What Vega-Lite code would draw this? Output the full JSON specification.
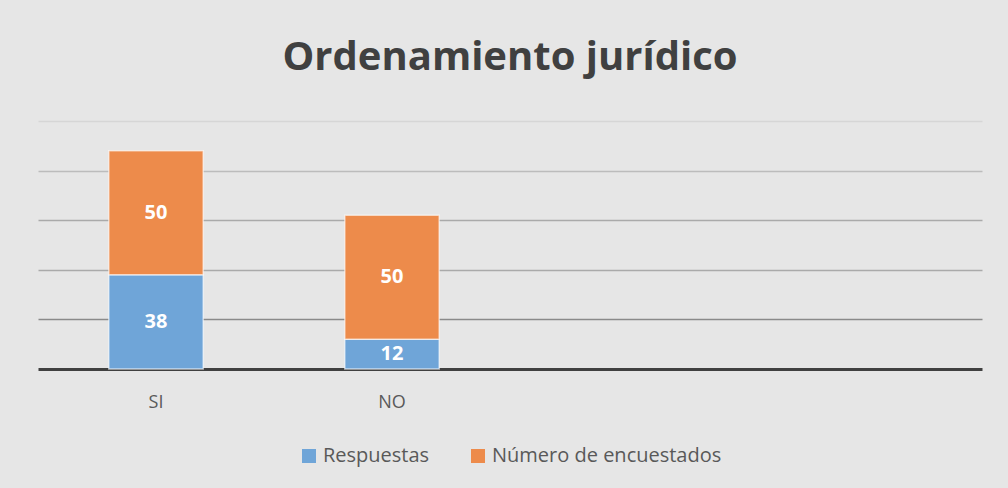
{
  "$schema": "https://vega.github.io/schema/vega-lite/v6.json",
  "autosize": {"type": "none"},
  "width": 944,
  "height": 248,
  "padding": {"left": 38, "top": 121, "right": 26, "bottom": 119},
  "background": "#e6e6e6",
  "title": {
    "text": "Ordenamiento jurídico",
    "anchor": "middle",
    "font": "Open Sans",
    "fontSize": 40,
    "fontWeight": "bold",
    "color": "#404040",
    "offset": 43
  },
  "data": {
    "values": [
      {"cat": "SI", "serie": "Respuestas", "valor": 38, "orden": 1},
      {"cat": "SI", "serie": "Número de encuestados", "valor": 50, "orden": 2},
      {"cat": "NO", "serie": "Respuestas", "valor": 12, "orden": 1},
      {"cat": "NO", "serie": "Número de encuestados", "valor": 50, "orden": 2}
    ]
  },
  "encoding": {
    "x": {
      "field": "cat",
      "type": "nominal",
      "sort": null,
      "scale": {"domain": ["SI", "NO", " ", "  "], "paddingInner": 0.6, "paddingOuter": 0.3},
      "axis": {
        "title": null,
        "labelAngle": 0,
        "ticks": false,
        "labelPadding": 24,
        "labelFont": "Open Sans",
        "labelFontSize": 18,
        "labelColor": "#595959",
        "domainColor": "#404040",
        "domainWidth": 3,
        "grid": false
      }
    },
    "y": {
      "field": "valor",
      "type": "quantitative",
      "stack": "zero",
      "scale": {"domain": [0, 100], "nice": false},
      "axis": {
        "title": null,
        "labels": false,
        "ticks": false,
        "domain": false,
        "values": [20, 40, 60, 80, 100],
        "gridWidth": 1.5,
        "gridColor": {
          "condition": [
            {"test": "datum.value == 20", "value": "#8a8a8a"},
            {"test": "datum.value == 100", "value": "#d6d6d6"},
            {"test": "datum.value == 80", "value": "#bcbcbc"}
          ],
          "value": "#aaaaaa"
        }
      }
    },
    "order": {"field": "orden", "type": "quantitative"}
  },
  "layer": [
    {
      "mark": {"type": "bar", "stroke": "#ffffff", "strokeOpacity": 0.6, "strokeWidth": 1.5},
      "encoding": {
        "color": {
          "field": "serie",
          "type": "nominal",
          "scale": {"domain": ["Respuestas", "Número de encuestados"], "range": ["#6fa5d8", "#ed8b4b"]},
          "legend": {
            "title": null,
            "orient": "bottom",
            "direction": "horizontal",
            "symbolType": "square",
            "symbolSize": 196,
            "symbolStrokeWidth": 0,
            "labelFont": "Open Sans",
            "labelFontSize": 20,
            "labelColor": "#595959",
            "labelLimit": 400,
            "columnPadding": 38,
            "offset": 35
          }
        }
      }
    },
    {
      "mark": {"type": "text", "font": "Open Sans", "fontSize": 20, "fontWeight": "bold", "color": "#ffffff", "baseline": "middle"},
      "encoding": {
        "y": {"field": "valor", "type": "quantitative", "stack": "zero", "bandPosition": 0.5},
        "text": {"field": "valor", "type": "quantitative"}
      }
    }
  ],
  "config": {
    "view": {"stroke": null},
    "legend": {"layout": {"bottom": {"anchor": "middle"}}}
  }
}
